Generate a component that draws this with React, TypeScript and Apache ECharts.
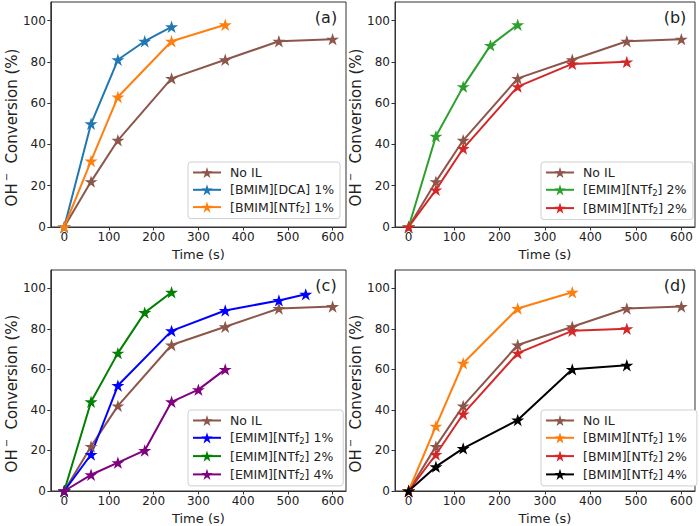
import React, { useEffect, useRef } from "react";
import * as echarts from "echarts";

const times7 = [0, 60, 120, 240, 360, 480, 600];
const noIL = [0, 22, 42, 72, 81, 90, 91];

const tA_dca = [0, 60, 120, 180, 240];
const yA_dca = [0, 50, 81, 90, 97];
const tA_bntf1 = [0, 60, 120, 240, 360];
const yA_bntf1 = [0, 32, 63, 90, 98];

const tB_entf2 = [0, 60, 120, 180, 240];
const yB_entf2 = [0, 44, 68, 88, 98];
const tB_bntf2 = [0, 60, 120, 240, 360, 480];
const yB_bntf2 = [0, 18, 38, 68, 79, 80];

const tC_entf1 = [0, 60, 120, 240, 360, 480, 540];
const yC_entf1 = [0, 18, 52, 79, 89, 94, 97];
const tC_entf4 = [0, 60, 120, 180, 240, 300, 360];
const yC_entf4 = [0, 8, 14, 20, 44, 50, 60];

const tD_bntf4 = [0, 60, 120, 240, 360, 480];
const yD_bntf4 = [0, 12, 21, 35, 60, 62];

const xTicks = [0, 100, 200, 300, 400, 500, 600];
const yTicks = [0, 20, 40, 60, 80, 100];
const panelLabels = ["(a)", "(b)", "(c)", "(d)"];

const STAR =
  "path://M0,-1 L0.2245,-0.309 L0.951,-0.309 L0.363,0.118 L0.588,0.809 L0,0.382 L-0.588,0.809 L-0.363,0.118 L-0.951,-0.309 L-0.2245,-0.309 Z";

const FONT = "DejaVu Sans";
const TXT = "#222";

const pair = (xs: number[], ys: number[]) => xs.map((x, i) => [x, ys[i]]);

const grids = [
  { left: 42, top: 2, width: 304, height: 225 },
  { left: 395, top: 2, width: 300, height: 225 },
  { left: 42, top: 270, width: 304, height: 224 },
  { left: 395, top: 270, width: 300, height: 224 },
];

function mkSeries(name: string, color: string, xs: number[], ys: number[], idx: number) {
  return {
    type: "line",
    name,
    xAxisIndex: idx,
    yAxisIndex: idx,
    data: pair(xs, ys),
    symbol: STAR,
    symbolSize: 13,
    symbolKeepAspect: true,
    clip: true,
    lineStyle: { color, width: 2 },
    itemStyle: { color, borderWidth: 0 },
    emphasis: { disabled: true },
  };
}

const fmtName = (n: string) => n.replace("NTf2", "NTf{sub|2}");

function mkLegend(names: string[], left: number, top: number) {
  return {
    data: names,
    orient: "vertical",
    left,
    top,
    padding: [4, 6, 4, 4],
    itemGap: 4.3,
    itemWidth: 28,
    itemHeight: 14,
    borderColor: "#d0d0d0",
    borderWidth: 1,
    borderRadius: 3,
    backgroundColor: "#fff",
    formatter: fmtName,
    textStyle: {
      fontFamily: FONT,
      fontSize: 12.5,
      color: TXT,
      padding: [0, 0, 0, 4],
      rich: {
        sub: { fontFamily: FONT, fontSize: 8.5, color: TXT, padding: [6, 0, 0, 0] },
      },
    },
  };
}

export default function App() {
  const ref = useRef<HTMLDivElement>(null);
  useEffect(() => {
    if (!ref.current) return;
    const chart = echarts.init(ref.current, undefined, { renderer: "svg" });
    const xAxis = grids.map((_, i) => ({
      type: "value",
      gridIndex: i,
      min: -30,
      max: 630,
      name: "Time (s)",
      nameLocation: "middle",
      nameGap: 21,
      nameTextStyle: { fontFamily: FONT, fontSize: 13, color: TXT },
      axisLine: { show: true, onZero: false, lineStyle: { color: "#333" } },
      axisTick: { show: true, inside: false, length: 3.5, customValues: xTicks, lineStyle: { color: "#333" } },
      axisLabel: {
        fontFamily: FONT,
        fontSize: 12,
        color: TXT,
        margin: 4,
        customValues: xTicks,
        formatter: (v: number) => String(v),
      },
      splitLine: { show: false },
    }));
    const yAxis = grids.map((_, i) => ({
      type: "value",
      gridIndex: i,
      min: 0,
      max: 109,
      name: "OH{sup|−}  Conversion (%)",
      nameLocation: "middle",
      nameRotate: 90,
      nameGap: 25,
      nameTextStyle: {
        fontFamily: FONT,
        fontSize: 15,
        color: TXT,
        padding: [0, 26, 0, 0],
        rich: { sup: { fontFamily: FONT, fontSize: 10, color: TXT, padding: [0, 0, 11, 2] } },
      },
      axisLine: { show: true, onZero: false, lineStyle: { color: "#333" } },
      axisTick: { show: true, inside: false, length: 3.5, customValues: yTicks, lineStyle: { color: "#333" } },
      axisLabel: {
        fontFamily: FONT,
        fontSize: 12,
        color: TXT,
        margin: 5,
        customValues: yTicks,
        formatter: (v: number) => String(v),
      },
      splitLine: { show: false },
    }));

    const option = {
      animation: false,
      backgroundColor: "#fff",
      grid: grids.map((g) => ({ ...g, show: true, borderColor: "#333", borderWidth: 1, containLabel: false })),
      xAxis,
      yAxis,
      legend: [
        mkLegend(["No IL", "[BMIM][DCA] 1%", "[BMIM][NTf2] 1%"], 188, 162),
        mkLegend(["No IL ", "[EMIM][NTf2] 2%", "[BMIM][NTf2] 2%"], 541, 162),
        mkLegend(["No IL  ", "[EMIM][NTf2] 1%", "[EMIM][NTf2] 2% ", "[EMIM][NTf2] 4%"], 188, 410),
        mkLegend(["No IL   ", "[BMIM][NTf2] 1% ", "[BMIM][NTf2] 2% ", "[BMIM][NTf2] 4%"], 541, 410),
      ],
      series: [
        mkSeries("No IL", "#8c564b", times7, noIL, 0),
        mkSeries("[BMIM][DCA] 1%", "#1f77b4", tA_dca, yA_dca, 0),
        mkSeries("[BMIM][NTf2] 1%", "#ff7f0e", tA_bntf1, yA_bntf1, 0),

        mkSeries("No IL ", "#8c564b", times7, noIL, 1),
        mkSeries("[EMIM][NTf2] 2%", "#2ca02c", tB_entf2, yB_entf2, 1),
        mkSeries("[BMIM][NTf2] 2%", "#d62728", tB_bntf2, yB_bntf2, 1),

        mkSeries("No IL  ", "#8c564b", times7, noIL, 2),
        mkSeries("[EMIM][NTf2] 1%", "#0000ff", tC_entf1, yC_entf1, 2),
        mkSeries("[EMIM][NTf2] 2% ", "#008000", tB_entf2, yB_entf2, 2),
        mkSeries("[EMIM][NTf2] 4%", "#800080", tC_entf4, yC_entf4, 2),

        mkSeries("No IL   ", "#8c564b", times7, noIL, 3),
        mkSeries("[BMIM][NTf2] 1% ", "#ff7f0e", tA_bntf1, yA_bntf1, 3),
        mkSeries("[BMIM][NTf2] 2% ", "#d62728", tB_bntf2, yB_bntf2, 3),
        mkSeries("[BMIM][NTf2] 4%", "#000000", tD_bntf4, yD_bntf4, 3),
      ],
      graphic: panelLabels.map((t, i) => ({
        type: "text",
        x: grids[i].left + grids[i].width - 20,
        y: grids[i].top + 15,
        style: {
          text: t,
          fontFamily: FONT,
          fontSize: 16,
          fill: TXT,
          align: "center",
          verticalAlign: "middle",
        },
      })),
    };
    chart.setOption(option as any);
    return () => chart.dispose();
  }, []);
  return <div ref={ref} style={{ width: 700, height: 526, position: "absolute", left: 0, top: 0 }} />;
}
